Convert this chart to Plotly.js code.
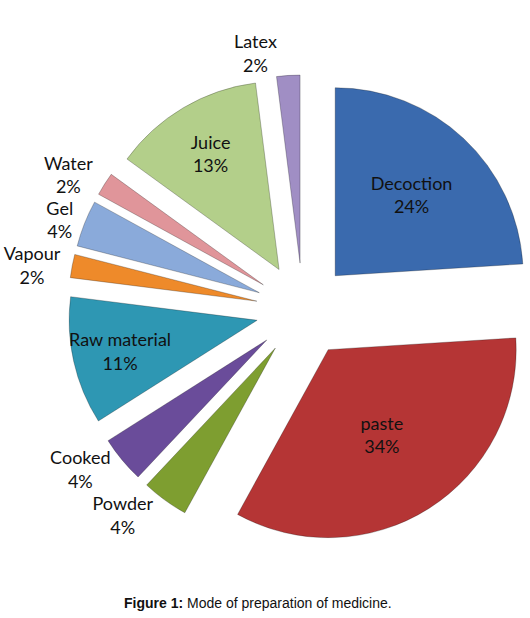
<!DOCTYPE html>
<html>
<head>
<meta charset="utf-8">
<script src="https://cdn.plot.ly/plotly-3.0.1.min.js"></script>
<style>
  html, body { margin: 0; padding: 0; background: #fff; overflow: hidden; }
  #chart { width: 545px; height: 618px; }
</style>
</head>
<body>
<div id="chart"></div>
<script>
const categories = ["Decoction", "paste", "Powder", "Cooked", "Raw material", "Vapour", "Gel", "Water", "Juice", "Latex"];
const percents = [24, 34, 4, 4, 11, 2, 4, 2, 13, 2];
const sliceColors = ["#3A6AAE", "#B53535", "#7E9E30", "#6A4C9A", "#2E97B3", "#EE8A2A", "#8AAADA", "#E0959A", "#B3CF8A", "#A08EC4"];
const labelPositions = ["inside", "inside", "outside", "outside", "inside", "outside", "outside", "outside", "inside", "outside"];
const captionBold = "Figure 1:";
const captionText = "Mode of preparation of medicine.";

const trace = {
  type: "pie",
  labels: categories,
  values: percents,
  sort: false,
  direction: "clockwise",
  rotation: 0,
  pull: categories.map(() => 0.25),
  marker: { colors: sliceColors, line: { color: "rgba(0,0,0,0.25)", width: 1 } },
  texttemplate: "%{label}<br>%{value}%",
  textposition: labelPositions,
  insidetextorientation: "horizontal",
  textfont: { family: "Lato, 'Open Sans', sans-serif", size: 18, color: "#111" },
  outsidetextfont: { family: "Lato, 'Open Sans', sans-serif", size: 18, color: "#111" },
  insidetextfont: { family: "Lato, 'Open Sans', sans-serif", size: 18, color: "#111" },
  hoverinfo: "label+percent",
  showlegend: false
};

const layout = {
  width: 545,
  height: 618,
  margin: { l: 68, r: 7, t: 75, b: 73 },
  paper_bgcolor: "#ffffff",
  showlegend: false,
  uniformtext: { minsize: 18, mode: "show" },
  annotations: [{
    xref: "paper", yref: "paper",
    x: (258 - 68) / 470, y: -(603 - 545) / 470,
    xanchor: "center", yanchor: "middle",
    showarrow: false,
    text: "<b>" + captionBold + "</b> " + captionText,
    font: { family: "Arial, 'Liberation Sans', sans-serif", size: 14, color: "#111" }
  }]
};

Plotly.newPlot("chart", [trace], layout, { displayModeBar: false, staticPlot: true }).then(function (gd) {
  // the reference draws no leader lines from the outside labels
  gd.querySelectorAll("path.textline").forEach(function (p) { p.remove(); });
});
</script>
</body>
</html>
